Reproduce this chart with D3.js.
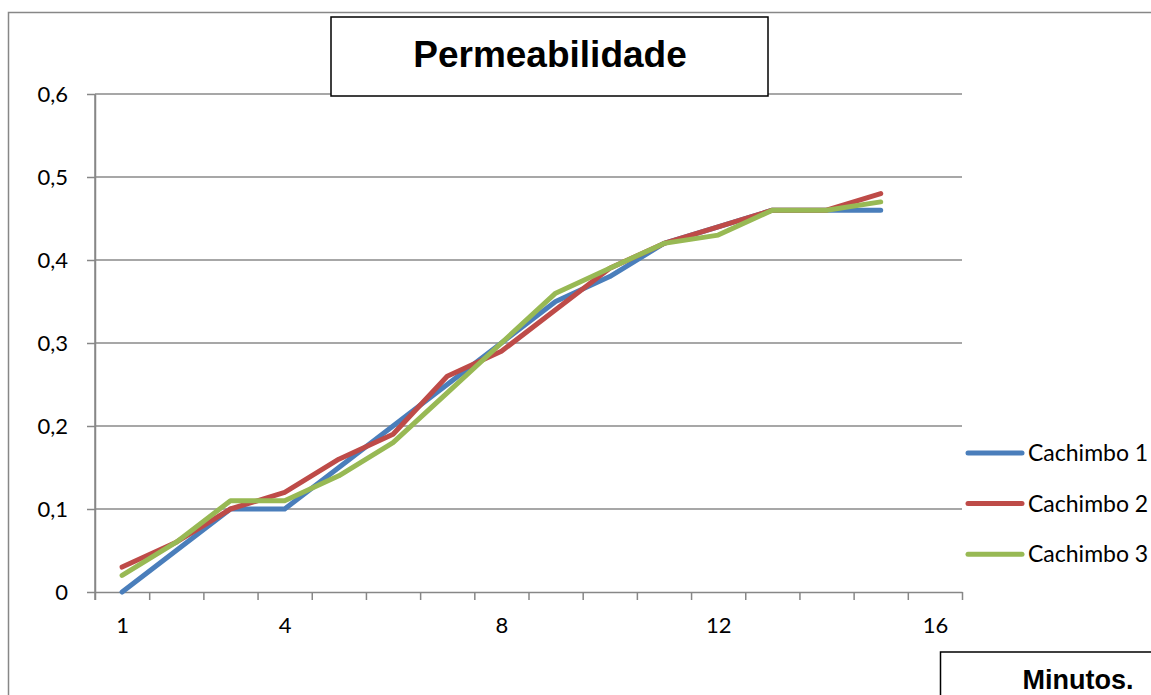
<!DOCTYPE html>
<html>
<head>
<meta charset="utf-8">
<script src="https://cdn.jsdelivr.net/npm/d3@7"></script>
<style>
  body { margin: 0; background: #fff; }
  svg { display: block; }
</style>
</head>
<body>
<div class="chart"></div>
<script>
// chart data
var minutes = d3.range(1, 17);           // 16 categories on the x axis
var xLabels = [1, 4, 8, 12, 16];
var yTicks = [0, 0.1, 0.2, 0.3, 0.4, 0.5, 0.6];
var seriesNames = ["Cachimbo 1", "Cachimbo 2", "Cachimbo 3"];
var cachimbo1 = [0, 0.05, 0.10, 0.10, 0.15, 0.20, 0.25, 0.30, 0.35, 0.38, 0.42, 0.44, 0.46, 0.46, 0.46];
var cachimbo2 = [0.03, 0.06, 0.10, 0.12, 0.16, 0.19, 0.26, 0.29, 0.34, 0.39, 0.42, 0.44, 0.46, 0.46, 0.48];
var cachimbo3 = [0.02, 0.06, 0.11, 0.11, 0.14, 0.18, 0.24, 0.30, 0.36, 0.39, 0.42, 0.43, 0.46, 0.46, 0.47];
var colors = ["#4a7ebb", "#be4b48", "#98b954"];

var svgWidth = 1151, svgHeight = 695;
var margin = { top: 94, left: 95, right: 189, bottom: 103 };
var width = svgWidth - margin.left - margin.right;
var height = svgHeight - margin.top - margin.bottom;

var svg = d3.select(".chart").append("svg")
  .attr("width", svgWidth)
  .attr("height", svgHeight);

// outer chart border (cropped by the picture)
svg.append("rect")
  .attr("x", 8.5).attr("y", 12.5)
  .attr("width", 1200).attr("height", 800)
  .attr("fill", "none")
  .attr("stroke", "#878787")
  .attr("stroke-width", 1.5);

var chartGroup = svg.append("g")
  .attr("transform", `translate(${margin.left}, ${margin.top})`);

// scales
var xScale = d3.scaleLinear()
  .domain([0.5, minutes.length + 0.5])
  .range([0, width]);

var yScale = d3.scaleLinear()
  .domain([0, 0.6])
  .range([height, 0]);

// gridlines
chartGroup.append("g")
  .selectAll("line")
  .data(yTicks.slice(1))
  .enter()
  .append("line")
  .attr("x1", 0)
  .attr("x2", width)
  .attr("y1", d => yScale(d))
  .attr("y2", d => yScale(d))
  .attr("stroke", "#8a8a8a")
  .attr("stroke-width", 1.5);

var fmt = d => d === 0 ? "0" : d3.format(".1f")(d).replace(".", ",");

// y axis
var yAxis = chartGroup.append("g")
  .call(d3.axisLeft(yScale).tickValues(yTicks).tickFormat(fmt).tickSize(8).tickPadding(19).tickSizeOuter(0));

// x axis: tick marks at category edges, labels at some categories
var xTicksAxis = chartGroup.append("g")
  .attr("transform", `translate(0, ${height})`)
  .call(d3.axisBottom(xScale).tickValues(d3.range(0.5, minutes.length + 1, 1)).tickFormat("").tickSize(8).tickSizeOuter(0));

var xLabelAxis = chartGroup.append("g")
  .attr("transform", `translate(0, ${height})`)
  .call(d3.axisBottom(xScale).tickValues(xLabels).tickSize(0).tickPadding(25));
xLabelAxis.select(".domain").remove();

[yAxis, xTicksAxis].forEach(function(a) {
  a.select(".domain").attr("stroke", "#878787").attr("stroke-width", 1.5);
  a.selectAll(".tick line").attr("stroke", "#878787").attr("stroke-width", 1.5);
});
// y axis line runs down past the x axis
yAxis.append("line")
  .attr("x1", 0).attr("x2", 0)
  .attr("y1", 0).attr("y2", height + 8)
  .attr("stroke", "#878787").attr("stroke-width", 1.5);

[yAxis, xLabelAxis].forEach(function(a) {
  a.selectAll("text")
    .attr("fill", "#000")
    .style("font-family", "Lato, 'Open Sans', sans-serif")
    .style("font-size", "22px");
});

// lines
var line = d3.line()
  .x((d, i) => xScale(minutes[i]))
  .y(d => yScale(d));

[cachimbo1, cachimbo2, cachimbo3].forEach(function(s, i) {
  chartGroup.append("path")
    .datum(s)
    .attr("d", line)
    .attr("fill", "none")
    .attr("stroke", colors[i])
    .attr("stroke-width", 5)
    .attr("stroke-linecap", "round")
    .attr("stroke-linejoin", "round");
});

// legend
var legend = svg.append("g")
  .attr("transform", "translate(968, 453)");

var legendItems = legend.selectAll("g")
  .data(seriesNames)
  .enter()
  .append("g")
  .attr("transform", (d, i) => `translate(0, ${i * 50.6})`);

legendItems.append("line")
  .attr("x1", 0).attr("x2", 54)
  .attr("stroke", (d, i) => colors[i])
  .attr("stroke-width", 5)
  .attr("stroke-linecap", "round");

legendItems.append("text")
  .attr("x", 60)
  .attr("dy", "0.35em")
  .style("font-family", "Lato, 'Open Sans', sans-serif")
  .style("font-size", "23px")
  .text(d => d);

// title box
svg.append("rect")
  .attr("x", 331).attr("y", 17)
  .attr("width", 437).attr("height", 79)
  .attr("fill", "#fff")
  .attr("stroke", "#000")
  .attr("stroke-width", 1.5);

svg.append("text")
  .attr("x", 550).attr("y", 67)
  .attr("text-anchor", "middle")
  .style("font-family", "'Liberation Sans', Arial, sans-serif")
  .style("font-weight", "bold")
  .style("font-size", "37px")
  .text("Permeabilidade");

// axis title box
svg.append("rect")
  .attr("x", 940.5).attr("y", 652)
  .attr("width", 300).attr("height", 100)
  .attr("fill", "#fff")
  .attr("stroke", "#000")
  .attr("stroke-width", 1.5);

svg.append("text")
  .attr("x", 1078).attr("y", 689)
  .attr("text-anchor", "middle")
  .style("font-family", "'Liberation Sans', Arial, sans-serif")
  .style("font-weight", "bold")
  .style("font-size", "27px")
  .text("Minutos.");
</script>
</body>
</html>
